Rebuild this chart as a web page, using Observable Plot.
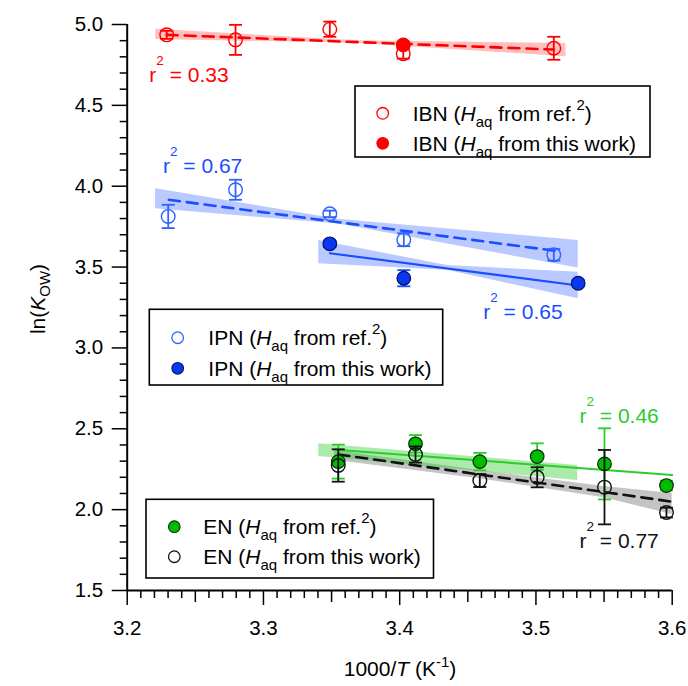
<!DOCTYPE html>
<html><head><meta charset="utf-8">
<script src="https://cdn.jsdelivr.net/npm/d3@7"></script>
<script src="https://cdn.jsdelivr.net/npm/@observablehq/plot@0.6"></script>
<style>
body{margin:0;background:#fff;}
#chart{position:relative;width:688px;height:686px;}
svg text{white-space:pre;}
</style>
</head><body><div id="chart"></div>
<script>
// ---- axis ticks ----
const xMajor = [3.2, 3.3, 3.4, 3.5, 3.6];
const xMid = [3.25, 3.35, 3.45, 3.55];
const yMajor = [1.5, 2.0, 2.5, 3.0, 3.5, 4.0, 4.5, 5.0];

// ---- IBN ----
const ibnRefX = [3.229, 3.2795, 3.3487, 3.4026, 3.5131];
const ibnRefY = [4.936, 4.905, 4.971, 4.819, 4.853];
const ibnRefErr = [0.025, 0.093, 0.047, 0.03, 0.071];
const ibnThisX = [3.4026];
const ibnThisY = [4.874];
const ibnThisErr = [0.02];
const ibnFitX = [3.229, 3.513];
const ibnFitY = [4.936, 4.845];
const ibnBandX = [3.221, 3.37, 3.522];
const ibnBandLo = [4.908, 4.883, 4.801];
const ibnBandHi = [4.970, 4.899, 4.883];

// ---- IPN ----
const ipnRefX = [3.2301, 3.2795, 3.3487, 3.403, 3.5131];
const ipnRefY = [3.813, 3.978, 3.829, 3.669, 3.576];
const ipnRefErr = [0.072, 0.062, 0.02, 0.04, 0.036];
const ipnThisX = [3.3487, 3.403, 3.531];
const ipnThisY = [3.644, 3.431, 3.400];
const ipnThisErr = [0.02, 0.05, 0.02];
const ipnRefFitX = [3.2306, 3.518];
const ipnRefFitY = [3.916, 3.596];
const ipnThisFitX = [3.3487, 3.531];
const ipnThisFitY = [3.586, 3.386];
const ipnRefBandX = [3.2208, 3.355, 3.531];
const ipnRefBandLo = [3.860, 3.766, 3.495];
const ipnRefBandHi = [3.984, 3.796, 3.664];
const ipnThisBandX = [3.3406, 3.435, 3.531];
const ipnThisBandLo = [3.520, 3.480, 3.304];
const ipnThisBandHi = [3.664, 3.510, 3.468];

// ---- EN ----
const enX = [3.3549, 3.4116, 3.4588, 3.5009, 3.5503, 3.5958];
const enRefY = [2.297, 2.407, 2.297, 2.328, 2.283, 2.149];
const enRefErr = [0.105, 0.054, 0.054, 0.082, 0.22, 0.03];
const enThisY = [2.273, 2.341, 2.180, 2.200, 2.139, 1.982];
const enThisErr = [0.10, 0.05, 0.04, 0.062, 0.23, 0.03];
const enRefFitX = [3.353, 3.6];
const enRefFitY = [2.371, 2.214];
const enThisFitX = [3.355, 3.6];
const enThisFitY = [2.341, 2.049];
const enRefBandX = [3.3406, 3.5307];
const enRefBandLo = [2.328, 2.180];
const enRefBandHi = [2.407, 2.273];
const enThisBandX = [3.352, 3.46, 3.55, 3.6];
const enThisBandLo = [2.305, 2.19, 2.073, 1.97];
const enThisBandHi = [2.365, 2.24, 2.143, 2.10];

// ---- r² annotations ----
const r2Values = ["0.33", "0.67", "0.65", "0.46", "0.77"];
const r2X = [3.2166, 3.2266, 3.4617, 3.5323, 3.5323];
const r2Y = [4.643, 4.080, 3.176, 2.532, 1.759];

// ---- colours ----
const RED = "#ff0000", BLUE = "#1a4dff", BLUE_OPEN = "#2f62ff", BLUE_FILL = "#0a38f0",
      GREEN = "#2bcc2b", GREEN_FILL = "#00bb00", BLACK = "#111";
const r2Colors = [RED, BLUE, BLUE, GREEN, BLACK];

// ---- helpers ----
const pts = (xs, ys, es) => xs.map((x, i) => ({x, y: ys[i], e: es[i]}));
const seg = (xs, ys) => xs.map((x, i) => ({x, y: ys[i]}));
const band = (xs, lo, hi) => xs.map((x, i) => ({x, lo: lo[i], hi: hi[i]}));
const capSym = {draw(ctx, size) { const r = Math.sqrt(size / Math.PI); ctx.moveTo(-r, 0); ctx.lineTo(r, 0); }};

function errMarks(data, color, w = 1.8) {
  return [
    Plot.ruleX(data, {x: "x", y1: d => d.y - d.e, y2: d => d.y + d.e, stroke: color, strokeWidth: w}),
    Plot.dot(data, {x: "x", y: d => d.y + d.e, symbol: capSym, r: 6.5, fill: "none", stroke: color, strokeWidth: w}),
    Plot.dot(data, {x: "x", y: d => d.y - d.e, symbol: capSym, r: 6.5, fill: "none", stroke: color, strokeWidth: w})
  ];
}
const openDots = (data, color) => Plot.dot(data, {x: "x", y: "y", r: 6.8, fill: "none", stroke: color, strokeWidth: 1.4});
const fillDots = (data, fill, stroke) => Plot.dot(data, {x: "x", y: "y", r: 6.8, fill, stroke, strokeWidth: 1.2});
const bandMark = (data, fill, op) => Plot.areaY(data, {x: "x", y1: "lo", y2: "hi", fill, fillOpacity: op});
const lineMark = (data, color, dashed, w) => Plot.line(data, {x: "x", y: "y", stroke: color, strokeWidth: w, strokeDasharray: dashed ? "11,7" : null});

const ibnRef = pts(ibnRefX, ibnRefY, ibnRefErr), ibnThis = pts(ibnThisX, ibnThisY, ibnThisErr);
const ipnRef = pts(ipnRefX, ipnRefY, ipnRefErr), ipnThis = pts(ipnThisX, ipnThisY, ipnThisErr);
const enRef = pts(enX, enRefY, enRefErr), enThis = pts(enX, enThisY, enThisErr);

const xMinor = d3.range(320, 361).filter(v => v % 5 !== 0).map(v => v / 100);
const yMinor = d3.range(15, 51).filter(v => v % 5 !== 0).map(v => v / 10);

const plot = Plot.plot({
  width: 688, height: 686,
  marginLeft: 126.7, marginRight: 16.3, marginTop: 24, marginBottom: 96,
  style: {fontFamily: '"Liberation Sans", Arial, sans-serif', fontSize: "20px", background: "white", color: "#000"},
  x: {domain: [3.2, 3.6], label: null},
  y: {domain: [1.5, 5.0], label: null},
  marks: [
    // bands
    bandMark(band(ibnBandX, ibnBandLo, ibnBandHi), RED, 0.25),
    bandMark(band(ipnRefBandX, ipnRefBandLo, ipnRefBandHi), BLUE, 0.3),
    bandMark(band(ipnThisBandX, ipnThisBandLo, ipnThisBandHi), BLUE, 0.3),
    bandMark(band(enThisBandX, enThisBandLo, enThisBandHi), "#000", 0.23),
    bandMark(band(enRefBandX, enRefBandLo, enRefBandHi), GREEN, 0.4),
    // fit lines
    lineMark(seg(ibnFitX, ibnFitY), RED, true, 2.6),
    lineMark(seg(ipnRefFitX, ipnRefFitY), BLUE, true, 2.6),
    lineMark(seg(ipnThisFitX, ipnThisFitY), BLUE, false, 2),
    lineMark(seg(enThisFitX, enThisFitY), BLACK, true, 2.6),
    lineMark(seg(enRefFitX, enRefFitY), GREEN, false, 2),
    // IBN
    ...errMarks(ibnRef, RED), openDots(ibnRef, RED),
    ...errMarks(ibnThis, RED), fillDots(ibnThis, RED, RED),
    // IPN
    ...errMarks(ipnRef, BLUE_OPEN), openDots(ipnRef, BLUE_OPEN),
    ...errMarks(ipnThis, BLUE), fillDots(ipnThis, BLUE_FILL, "#001060"),
    // EN
    ...errMarks(enRef, GREEN), fillDots(enRef, GREEN_FILL, "#053005"),
    ...errMarks(enThis, BLACK), openDots(enThis, BLACK),
    // axis lines
    Plot.ruleX([3.2], {stroke: "#000", strokeWidth: 2}),
    Plot.ruleY([1.5], {stroke: "#000", strokeWidth: 2}),
    // ticks
    Plot.axisX(xMinor, {anchor: "bottom", tickSize: 8, strokeWidth: 1.5, stroke: "#000", fill: "none"}),
    Plot.axisX(xMid, {anchor: "bottom", tickSize: 12, strokeWidth: 1.5, stroke: "#000", fill: "none"}),
    Plot.axisX(xMajor, {anchor: "bottom", tickSize: 15, strokeWidth: 1.5, stroke: "#000", fill: "none"}),
    Plot.axisX(xMajor, {anchor: "bottom", tickSize: 0, tickPadding: 30, fontSize: 20.5, fill: "#000", label: null, tickFormat: d => d.toFixed(1)}),
    Plot.axisY(yMinor, {anchor: "left", tickSize: 7, strokeWidth: 1.5, stroke: "#000", fill: "none"}),
    Plot.axisY(yMajor, {anchor: "left", tickSize: 15, strokeWidth: 1.5, stroke: "#000", fill: "none"}),
    Plot.axisY(yMajor, {anchor: "left", tickSize: 0, tickPadding: 24, fontSize: 20.5, fill: "#000", label: null, tickFormat: d => d.toFixed(1)})
  ]
});
document.getElementById("chart").appendChild(plot);

// ---- rich text annotations ----
const svg = d3.select(plot);
const sx = plot.scale("x"), sy = plot.scale("y");
function rich(parent, x, y, parts, {size = 21, fill = "#000", anchor = "start", transform = null} = {}) {
  const t = parent.append("text").attr("x", x).attr("y", y).attr("font-size", size)
    .attr("fill", fill).attr("text-anchor", anchor);
  if (transform) t.attr("transform", transform);
  let shift = 0;
  for (const p of parts) {
    const ts = t.append("tspan").text(p.t);
    const target = p.sup ? -p.sup : (p.sub ? p.sub : 0);
    if (target !== shift) { ts.attr("dy", target - shift); shift = target; }
    if (p.sup || p.sub) ts.attr("font-size", p.size || 15);
    if (p.i) ts.attr("font-style", "italic");
  }
  return t;
}
const g = svg.append("g");
// r² labels
r2Values.forEach((v, i) => {
  rich(g, sx.apply(r2X[i]), sy.apply(r2Y[i]),
    [{t: "r"}, {t: "2", sup: 17, size: 13.5}, {t: " = " + v}], {size: 21, fill: r2Colors[i]});
});

// legends
const legends = [
  {box: [355, 86, 650, 157], mx: 382.7, tx: 412.7, rows: [
    {cy: 113.3, name: "IBN", src: "ref", marker: "open", color: RED},
    {cy: 143.3, name: "IBN", src: "this", marker: "fill", color: RED, stroke: RED}]},
  {box: [149.3, 309.3, 442.7, 385], mx: 177.7, tx: 208.3, rows: [
    {cy: 337.7, name: "IPN", src: "ref", marker: "open", color: BLUE_OPEN},
    {cy: 368.3, name: "IPN", src: "this", marker: "fill", color: BLUE_FILL, stroke: "#001060"}]},
  {box: [146, 499.3, 433.5, 578], mx: 174.3, tx: 203.3, rows: [
    {cy: 526.7, name: "EN", src: "ref", marker: "fill", color: GREEN_FILL, stroke: "#053005"},
    {cy: 556.7, name: "EN", src: "this", marker: "open", color: BLACK}]}
];
for (const L of legends) {
  const [x0, y0, x1, y1] = L.box;
  g.append("rect").attr("x", x0).attr("y", y0).attr("width", x1 - x0).attr("height", y1 - y0)
    .attr("fill", "white").attr("stroke", "#000").attr("stroke-width", 1.6);
  for (const r of L.rows) {
    const c = g.append("circle").attr("cx", L.mx).attr("cy", r.cy).attr("r", 5.8);
    if (r.marker === "open") c.attr("fill", "none").attr("stroke", r.color).attr("stroke-width", 1.3);
    else c.attr("fill", r.color).attr("stroke", r.stroke).attr("stroke-width", 1.1);
    const parts = [{t: r.name + " ("}, {t: "H", i: true}, {t: "aq", sub: 6}];
    if (r.src === "ref") parts.push({t: " from ref."}, {t: "2", sup: 11}, {t: ")"});
    else parts.push({t: " from this work)"});
    rich(g, L.tx, r.cy + 7.5, parts, {size: 21});
  }
}

// axis titles
rich(g, 400, 676, [{t: "1000/"}, {t: "T", i: true}, {t: " (K"}, {t: "-1", sup: 9}, {t: ")"}], {size: 21, anchor: "middle"});
rich(g, 0, 0, [{t: "ln("}, {t: "K", i: true}, {t: "OW", sub: 5}, {t: ")"}],
  {size: 21, anchor: "middle", transform: "translate(45,299) rotate(-90)"});
</script>
</body></html>
